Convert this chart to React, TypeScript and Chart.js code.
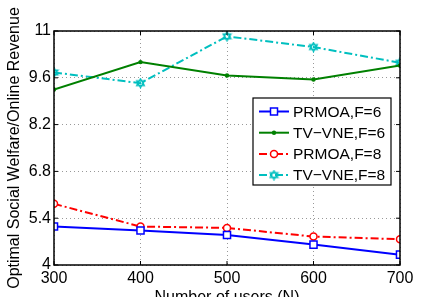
import React, { useEffect, useRef } from "react";
import { Chart, registerables } from "chart.js";
Chart.register(...registerables);

const users = [300, 400, 500, 600, 700];
const prmoaF6 = [5.15, 5.03, 4.9, 4.61, 4.31];
const tvvneF6 = [9.25, 10.07, 9.67, 9.55, 9.97];
const prmoaF8 = [5.83, 5.15, 5.11, 4.85, 4.77];
const tvvneF8 = [9.76, 9.44, 10.84, 10.52, 10.05];
const yTicks = [4, 5.4, 6.8, 8.2, 9.6, 11];
const seriesLabels = ["PRMOA,F=6", "TV\u2212VNE,F=6", "PRMOA,F=8", "TV\u2212VNE,F=8"];
const xTitle = "Number of users (N)";
const yTitle = "Optimal Social Welfare/Online Revenue";

const FONT = "'Liberation Sans', Arial, sans-serif";

function makeHexagram(color: string, size: number): HTMLCanvasElement {
  const c = document.createElement("canvas");
  c.width = size;
  c.height = size;
  const ctx = c.getContext("2d")!;
  const cx = size / 2, cy = size / 2, r = size / 2 - 1;
  ctx.strokeStyle = color;
  ctx.lineWidth = 1.3;
  for (let t = 0; t < 2; t++) {
    ctx.beginPath();
    for (let i = 0; i < 3; i++) {
      const a = -Math.PI / 2 + t * Math.PI + (i * 2 * Math.PI) / 3;
      const px = cx + r * Math.cos(a), py = cy + r * Math.sin(a);
      if (i === 0) ctx.moveTo(px, py);
      else ctx.lineTo(px, py);
    }
    ctx.closePath();
    ctx.stroke();
  }
  return c;
}

const pts = (ys: number[]) => users.map((x, i) => ({ x, y: ys[i] }));

export default function App() {
  const ref = useRef<HTMLCanvasElement>(null);
  useEffect(() => {
    const hex = makeHexagram("#00bfbf", 11);
    const styles = [
      { color: "#0000ff", dash: [] as number[], marker: "rect" },
      { color: "#008000", dash: [] as number[], marker: "dot" },
      { color: "#ff0000", dash: [8, 3, 2, 3], marker: "circle" },
      { color: "#00bfbf", dash: [8, 3, 2, 3], marker: "hex" },
    ];
    const drawMarker = (ctx: CanvasRenderingContext2D, kind: string, color: string, x: number, y: number) => {
      ctx.save();
      ctx.setLineDash([]);
      ctx.strokeStyle = color;
      ctx.fillStyle = color;
      ctx.lineWidth = 1.5;
      if (kind === "rect") {
        ctx.fillStyle = "#fff";
        ctx.fillRect(x - 3.5, y - 3.5, 7, 7);
        ctx.strokeRect(x - 3.5, y - 3.5, 7, 7);
      } else if (kind === "dot") {
        ctx.beginPath();
        ctx.arc(x, y, 2.2, 0, Math.PI * 2);
        ctx.fill();
      } else if (kind === "circle") {
        ctx.fillStyle = "#fff";
        ctx.beginPath();
        ctx.arc(x, y, 3.5, 0, Math.PI * 2);
        ctx.fill();
        ctx.stroke();
      } else {
        ctx.drawImage(hex, x - hex.width / 2, y - hex.height / 2);
      }
      ctx.restore();
    };

    const framePlugin = {
      id: "frame",
      afterDraw(chart: any) {
        const ctx: CanvasRenderingContext2D = chart.ctx;
        const { left, right, top, bottom } = chart.chartArea;
        const xs = chart.scales.x, ys = chart.scales.y;
        ctx.save();
        ctx.strokeStyle = "#000";
        ctx.lineWidth = 1.5;
        ctx.setLineDash([]);
        ctx.strokeRect(left, top, right - left, bottom - top);
        ctx.lineWidth = 1;
        ctx.beginPath();
        xs.ticks.forEach((t: any) => {
          const px = xs.getPixelForValue(t.value);
          ctx.moveTo(px, bottom);
          ctx.lineTo(px, bottom - 4);
          ctx.moveTo(px, top);
          ctx.lineTo(px, top + 4);
        });
        ys.ticks.forEach((t: any) => {
          const py = ys.getPixelForValue(t.value);
          ctx.moveTo(left, py);
          ctx.lineTo(left + 4, py);
          ctx.moveTo(right, py);
          ctx.lineTo(right - 4, py);
        });
        ctx.stroke();

        // legend
        const w = 138, h = 87;
        const lx = right - 9 - w, ly = top + 67;
        ctx.fillStyle = "#fff";
        ctx.fillRect(lx, ly, w, h);
        ctx.lineWidth = 1.2;
        ctx.strokeStyle = "#000";
        ctx.strokeRect(lx, ly, w, h);
        ctx.font = "15.5px " + FONT;
        ctx.textBaseline = "middle";
        ctx.textAlign = "left";
        chart.data.datasets.forEach((ds: any, i: number) => {
          const st = styles[i];
          const cy = ly + 13.5 + i * 21.2;
          ctx.strokeStyle = st.color;
          ctx.lineWidth = 2;
          ctx.setLineDash(st.dash);
          ctx.beginPath();
          ctx.moveTo(lx + 6, cy);
          ctx.lineTo(lx + 36, cy);
          ctx.stroke();
          drawMarker(ctx, st.marker, st.color, lx + 21, cy);
          ctx.fillStyle = "#000";
          ctx.fillText(ds.label, lx + 40, cy + 1);
        });
        ctx.restore();
      },
    };

    const series = [prmoaF6, tvvneF6, prmoaF8, tvvneF8];
    const datasets = series.map((s, i) => {
      const st = styles[i];
      const base: any = {
        label: seriesLabels[i],
        data: pts(s),
        borderColor: st.color,
        backgroundColor: "#fff",
        borderWidth: 2,
        borderDash: st.dash,
        pointBorderWidth: 1.5,
        tension: 0,
      };
      if (st.marker === "rect") {
        base.pointStyle = "rect";
        base.pointRadius = 5;
      } else if (st.marker === "dot") {
        base.pointStyle = "circle";
        base.pointRadius = 2.2;
        base.pointBackgroundColor = st.color;
        base.pointBorderWidth = 0;
      } else if (st.marker === "circle") {
        base.pointStyle = "circle";
        base.pointRadius = 3.5;
      } else {
        base.pointStyle = hex;
      }
      return base;
    });

    const chart = new Chart(ref.current!, {
      type: "line",
      data: { datasets },
      options: {
        animation: false,
        responsive: true,
        maintainAspectRatio: false,
        layout: { padding: { top: 31, right: 21, left: 0, bottom: 0 } },
        plugins: { legend: { display: false }, tooltip: { enabled: false } },
        scales: {
          x: {
            type: "linear",
            min: 300,
            max: 700,
            ticks: { stepSize: 100, color: "#000", font: { size: 16, family: FONT }, padding: 4, maxRotation: 0 },
            grid: { color: "#999", drawTicks: false, lineWidth: 1 },
            border: { display: false, dash: [1, 3] },
            title: { display: true, text: xTitle, color: "#000", font: { size: 16, family: FONT }, padding: { top: 0, bottom: -10 } },
            afterFit: (s: any) => { s.height = 32; },
          },
          y: {
            type: "linear",
            min: 4,
            max: 11,
            afterBuildTicks: (s: any) => { s.ticks = yTicks.map((v) => ({ value: v })); },
            ticks: { color: "#000", font: { size: 16, family: FONT }, padding: 3 },
            grid: { color: "#999", drawTicks: false, lineWidth: 1 },
            border: { display: false, dash: [1, 3] },
            title: { display: true, text: yTitle, color: "#000", font: { size: 16, family: FONT }, padding: { top: 5, bottom: 0 } },
            afterFit: (s: any) => { s.width = 54; },
          },
        },
      },
      plugins: [framePlugin],
    } as any);
    return () => chart.destroy();
  }, []);
  return (
    <div style={{ position: "fixed", left: 0, top: 0, width: 421, height: 297, background: "#fff" }}>
      <canvas ref={ref} />
    </div>
  );
}
